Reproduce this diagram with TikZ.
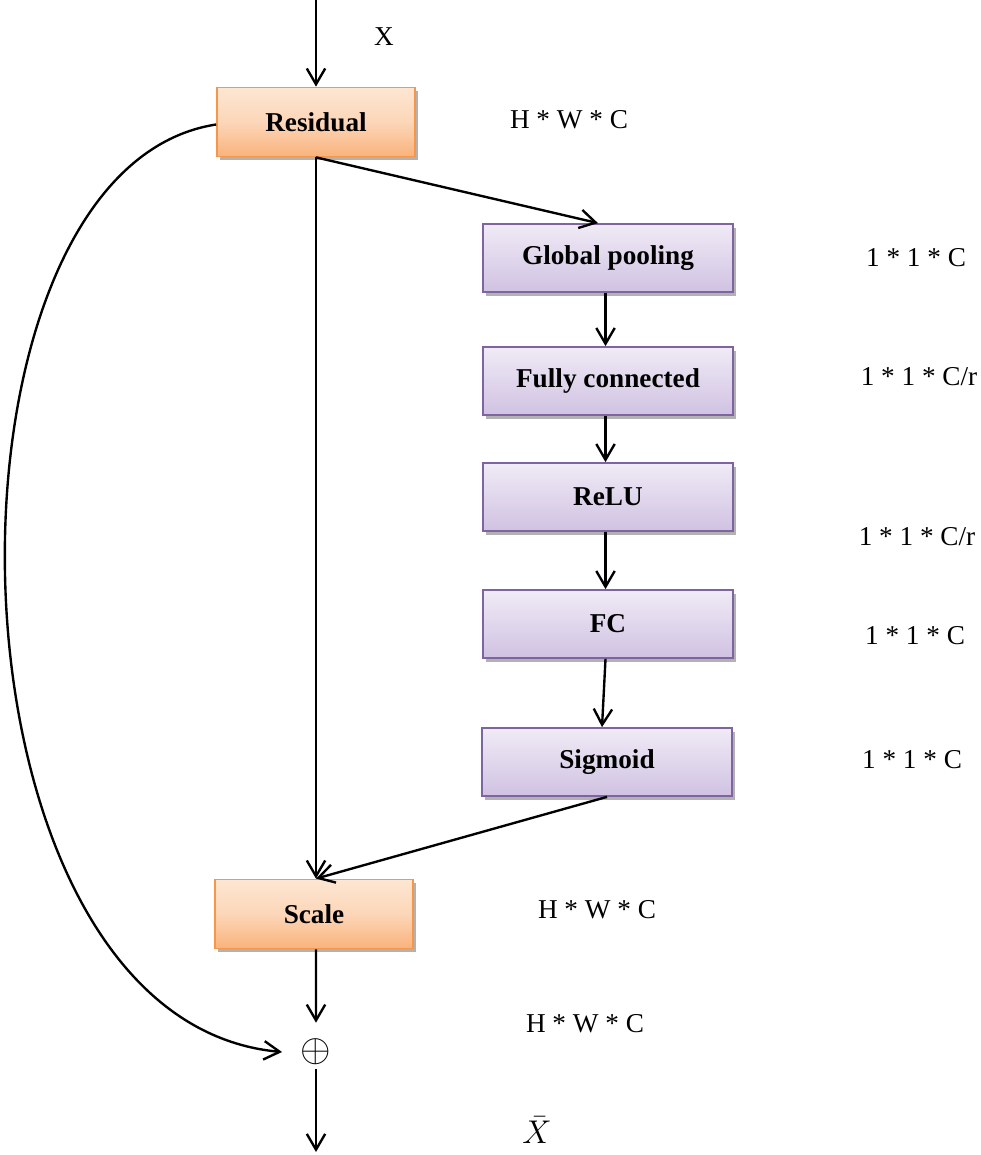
\documentclass[tikz,border=0pt]{standalone}
\usepackage{fontspec}
\setmainfont{Liberation Serif}
\usetikzlibrary{arrows.meta,shadows,positioning}
\definecolor{ResBorder}{HTML}{F79646}
\definecolor{ResTop}{HTML}{FDE6D2}
\definecolor{ResBottom}{HTML}{F9B27C}
\definecolor{SEBorder}{HTML}{8064A2}
\definecolor{SETop}{HTML}{F0EBF6}
\definecolor{SEBottom}{HTML}{D0C2E2}
\tikzset{
  every node/.style={
    font=\fontsize{15.5}{18}\selectfont
  },
  resblock/.style={
    shape=rectangle,
    minimum width=3.96cm,
    minimum height=1.38cm,
    draw=ResBorder,
    line width=1pt,
    top color=ResTop,
    bottom color=ResBottom,
    middle color=ResTop!70!ResBottom,
    drop shadow={shadow xshift=1.5pt,shadow yshift=-2pt,opacity=0.3,fill=black},
    font=\fontsize{15.5}{18}\selectfont\bfseries
  },
  seblock/.style={
    shape=rectangle,
    minimum width=5cm,
    minimum height=1.36cm,
    draw=SEBorder,
    line width=1pt,
    top color=SETop,
    bottom color=SEBottom,
    drop shadow={shadow xshift=1.5pt,shadow yshift=-2pt,opacity=0.3,fill=black},
    font=\fontsize{15.5}{18}\selectfont\bfseries
  },
  dimlabel/.style={
    shape=rectangle,
    inner sep=1pt
  },
  flow/.style={
    line width=1.35pt,
    -{Straight Barb[length=9pt,width=10.5pt,line width=1.35pt]}
  }
}
\begin{document}
\begin{tikzpicture}[x=0.02cm,y=-0.02cm]
\useasboundingbox (0,0) rectangle (980,1155);

% main path
\coordinate (in) at (316,0);
\node [resblock] (residual) at (316,122) {Residual};
\node [resblock] (scale) at (314,914) {Scale};
\node (add) at (316,1052) {\scalebox{1.55}{$\oplus$}};
\coordinate (out) at (316,1152);

% squeeze and excitation branch
\node [seblock] (pool) at (608,258) {Global pooling};
\node [seblock] (fc1) at (608,381) {Fully connected};
\node [seblock] (relu) at (608,497) {ReLU};
\node [seblock] (fc2) at (608,624) {FC};
\node [seblock] (sigmoid) at (607,762) {Sigmoid};

% sizes
\node [dimlabel] (xin) at (384,37) {X};
\node [dimlabel] (d0) at (569,120) {H * W * C};
\node [dimlabel] (d1) at (916,258) {1 * 1 * C};
\node [dimlabel] (d2) at (919,377) {1 * 1 * C/r};
\node [dimlabel] (d3) at (917,537) {1 * 1 * C/r};
\node [dimlabel] (d4) at (915,636) {1 * 1 * C};
\node [dimlabel] (d5) at (912,760) {1 * 1 * C};
\node [dimlabel] (d6) at (597,910) {H * W * C};
\node [dimlabel] (d7) at (585,1024) {H * W * C};
\node [dimlabel] (xout) at (537,1130) {\scalebox{1.3}{$\bar{X}$}};

\draw [flow] (in) -- (residual.north);
\draw [flow] (residual.south) -- (scale.north -| residual.south);
\draw [flow] (residual.south) -- ([xshift=-0.2cm]pool.north);
\draw [flow] ([xshift=-0.05cm]pool.south) -- ([xshift=-0.05cm]fc1.north);
\draw [flow] ([xshift=-0.05cm]fc1.south) -- ([xshift=-0.05cm]relu.north);
\draw [flow] ([xshift=-0.05cm]relu.south) -- ([xshift=-0.05cm]fc2.north);
\draw [flow] ([xshift=-0.05cm]fc2.south) -- ([xshift=-0.1cm]sigmoid.north);
\draw [flow] (sigmoid.south) -- ([xshift=0.04cm]scale.north);
\draw [flow] ([xshift=0.04cm]scale.south) -- ([yshift=0.2cm]add.north);
\draw [flow] ([yshift=0.05cm]add.south) -- (out);
\draw [flow] ([yshift=-0.05cm]residual.west) .. controls (-80,170) and (-70,1020) .. ([xshift=-0.25cm]add.west);

\end{tikzpicture}
\end{document}
